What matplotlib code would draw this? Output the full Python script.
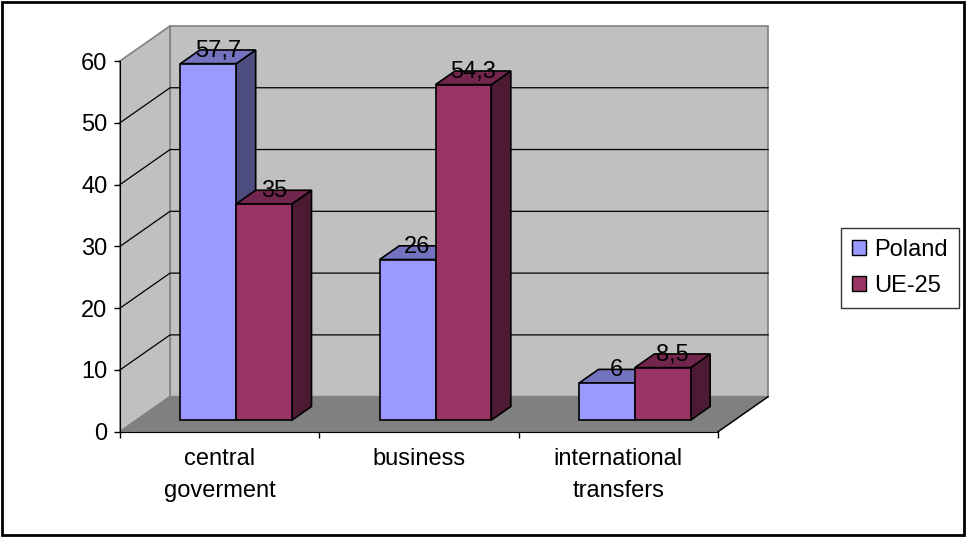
import matplotlib.pyplot as plt
from matplotlib.patches import Polygon, Rectangle, Patch

plt.rcParams['font.family'] = ['Liberation Sans', 'DejaVu Sans']

# data
categories = ['central\ngoverment', 'business', 'international\ntransfers']
series_names = ['Poland', 'UE-25']
poland = [57.7, 26, 6]
ue25 = [35, 54.3, 8.5]
yticks = [0, 10, 20, 30, 40, 50, 60]

# colours: front, top, side
colors = {
    'Poland': ('#9999FF', '#7373C0', '#4D4D80'),
    'UE-25': ('#993366', '#73264D', '#4D1A33'),
}

# oblique depth vector (full floor depth) in data units
DX = 0.251
DY = 5.67
f0, f1 = 0.33, 0.72   # bar depth span (fraction of floor depth)
bw = 0.28            # bar width in category units

fig = plt.figure(figsize=(9.67, 5.37), dpi=100)
ax = fig.add_axes([120 / 967, 105.3 / 537, 598 / 967, 370.7 / 537])
ax.set_xlim(0, 3)
ax.set_ylim(0, 60)
ax.patch.set_visible(False)

def p(x, y, d):
    return (x + d * DX, y + d * DY)

# walls and floor
ax.add_patch(Polygon([p(0, 0, 1), p(3, 0, 1), p(3, 60, 1), p(0, 60, 1)],
                     closed=True, fc='#C0C0C0', ec='#808080', lw=1.2, clip_on=False, zorder=0))
ax.add_patch(Polygon([p(0, 0, 0), p(0, 0, 1), p(0, 60, 1), p(0, 60, 0)],
                     closed=True, fc='#C0C0C0', ec='#808080', lw=1.2, clip_on=False, zorder=0))
ax.add_patch(Polygon([p(0, 0, 0), p(3, 0, 0), p(3, 0, 1), p(0, 0, 1)],
                     closed=True, fc='#808080', ec='#808080', lw=1.2, clip_on=False, zorder=0))
ax.plot([3, 3 + DX], [0, DY], color='black', lw=1, clip_on=False, zorder=1)

# gridlines
for v in yticks[1:-1]:
    ax.plot([0, DX, 3 + DX], [v, v + DY, v + DY], color='black', lw=0.9,
            clip_on=False, zorder=1)

# bars
for i in range(len(categories)):
    for j, (name, vals) in enumerate([('Poland', poland), ('UE-25', ue25)]):
        v = vals[i]
        x0 = i + 0.5 - bw + j * bw
        x1 = x0 + bw
        front, top, side = colors[name]
        ax.add_patch(Polygon([p(x1, 0, f0), p(x1, 0, f1), p(x1, v, f1), p(x1, v, f0)],
                             closed=True, fc=side, ec='black', lw=1.2, clip_on=False, zorder=2))
        ax.add_patch(Polygon([p(x0, v, f0), p(x1, v, f0), p(x1, v, f1), p(x0, v, f1)],
                             closed=True, fc=top, ec='black', lw=1.2, clip_on=False, zorder=2))
        ax.add_patch(Polygon([p(x0, 0, f0), p(x1, 0, f0), p(x1, v, f0), p(x0, v, f0)],
                             closed=True, fc=front, ec='black', lw=1.2, clip_on=False, zorder=2))
        lx, ly = p((x0 + x1) / 2, v, (f0 + f1) / 2)
        ax.text(lx, ly, f'{v:g}'.replace('.', ','), ha='center', va='baseline',
                fontsize=17, zorder=3)

# axes
for s in ['top', 'right']:
    ax.spines[s].set_visible(False)
ax.spines['left'].set_color('black')
ax.spines['bottom'].set_color('black')
ax.spines['left'].set_zorder(1)
ax.set_yticks(yticks)
ax.tick_params(axis='y', length=4, width=1, pad=5, labelsize=17)
ax.set_xticks([0, 1, 2, 3])
ax.set_xticklabels([])
ax.set_xticks([0.5, 1.5, 2.5], minor=True)
ax.set_xticklabels(categories, minor=True, fontsize=17, linespacing=1.55)
ax.tick_params(axis='x', which='major', length=4.5, width=1)
ax.tick_params(axis='x', which='minor', length=0, pad=12)

# legend
handles = [Patch(facecolor=colors[n][0], edgecolor='black', lw=1) for n in series_names]
leg = fig.legend(handles, series_names, loc='center', bbox_to_anchor=(900 / 967, 1 - 268 / 537),
                 fontsize=17, frameon=True, fancybox=False, edgecolor='black',
                 handlelength=0.6, handleheight=0.6, handletextpad=0.35,
                 labelspacing=0.6, borderpad=0.45, borderaxespad=0)
leg.get_frame().set_linewidth(1)

# outer border
fig.patches.append(Rectangle((0.002, 0.003), 0.995, 0.993, transform=fig.transFigure,
                             fill=False, lw=2, ec='black'))

fig.savefig('out.png', dpi=100)
